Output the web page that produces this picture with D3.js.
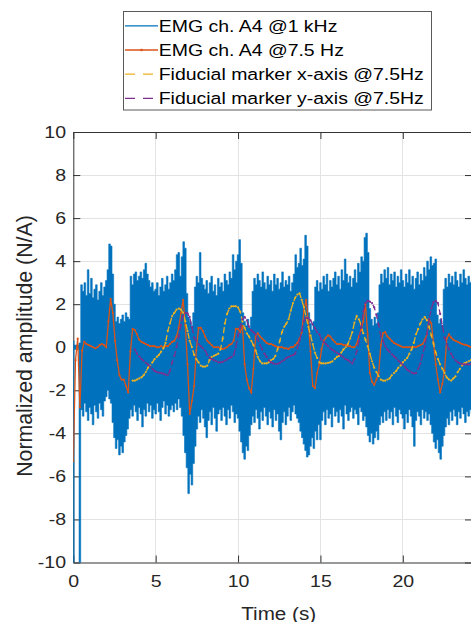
<!DOCTYPE html>
<html>
<head>
<meta charset="utf-8">
<title>EMG ch. A4 and fiducial markers</title>
<script src="https://d3js.org/d3.v7.min.js"></script>
<style>
  body { margin: 0; background: #ffffff; }
  svg { display: block; font-family: "Liberation Sans", Arial, Helvetica, sans-serif; }
</style>
</head>
<body>
<svg id="canvas"></svg>
<script>

// axis ticks
var xTicks = [0, 5, 10, 15, 20];
var yTicks = [-10, -8, -6, -4, -2, 0, 2, 4, 6, 8, 10];

// EMG ch. A4 @1 kHz, too dense to read sample by sample:
// max / min of the trace in every 0.1 s bin
var emgBin = 0.1;
var emgUpper = [
  0.3, 0.1, 0.1, 0.1, 0.2, 2.9, 2.6, 3.0, 2.4, 3.6,
  2.5, 3.2, 2.3, 2.7, 2.9, 2.2, 2.6, 3.0, 2.4, 2.8,
  3.1, 3.6, 4.8, 4.7, 3.4, 2.0, 1.2, 1.4, 1.1, 1.3,
  1.5, 1.2, 1.6, 1.4, 1.3, 3.3, 2.9, 3.4, 3.5, 3.1,
  3.3, 3.5, 3.2, 3.6, 3.9, 3.4, 3.1, 2.8, 3.0, 2.6,
  2.7, 3.0, 2.4, 2.8, 3.2, 2.6, 2.9, 3.3, 2.7, 3.0,
  3.4, 3.1, 3.6, 4.3, 4.4, 3.3, 4.2, 4.9, 4.6, 2.5,
  1.4, 1.2, 1.0, 1.6, 2.8, 3.3, 3.0, 4.4, 3.2, 2.9,
  2.7, 3.1, 2.5, 3.0, 3.3, 2.6, 2.9, 2.4, 3.2, 2.8,
  3.0, 2.6, 3.4, 3.1, 2.9, 3.5, 3.2, 4.3, 3.6, 4.0,
  4.3, 5.0, 3.9, 1.6, 1.2, 1.0, 1.3, 0.9, 1.4, 2.6,
  3.2, 2.9, 3.4, 3.1, 2.8, 3.5, 3.0, 2.7, 3.3, 2.9,
  3.1, 2.6, 3.4, 2.9, 3.2, 2.7, 3.0, 3.5, 2.8, 3.1,
  2.9, 3.3, 2.6, 3.0, 3.4, 4.3, 3.7, 3.9, 4.6, 3.8,
  4.1, 5.2, 4.7, 1.6, 1.1, 0.8, 1.2, 2.8, 3.1, 2.6,
  3.0, 2.7, 3.3, 2.9, 3.4, 2.6, 3.1, 2.8, 3.2, 3.5,
  2.9, 3.3, 2.7, 3.6, 3.1, 4.1, 3.4, 3.0, 3.3, 2.8,
  3.2, 3.6, 3.0, 3.9, 3.5, 4.2, 4.0, 5.1, 5.3, 4.4,
  1.8, 1.3, 1.0, 1.4, 1.1, 1.6, 2.9, 3.4, 3.0, 3.6,
  3.2, 3.7, 2.9, 3.4, 3.1, 3.5, 2.8, 3.3, 3.0, 3.6,
  3.1, 2.8, 3.4, 3.0, 3.6, 2.9, 3.3, 2.7, 3.2, 3.5,
  2.9, 3.4, 3.1, 3.7, 3.3, 4.0, 3.6, 4.2, 3.8, 3.9,
  4.1, 1.5, 1.1, 1.3, 1.0, 2.7, 3.2, 2.8, 3.4, 3.0,
  3.3, 2.9, 3.5, 3.1, 2.8, 3.4, 3.0, 3.6, 3.2, 2.9,
  3.3, 3.0, 3.1
];
var emgLower = [
  -10.5, -0.1, -0.1, -0.1, -10.5, -2.9, -3.2, -2.6, -3.0, -3.4,
  -2.8, -3.1, -3.6, -2.7, -3.0, -3.3, -2.6, -2.9, -3.2, -2.5,
  -2.3, -2.0, -2.4, -2.6, -3.5, -4.2, -4.7, -4.3, -5.0, -4.6,
  -4.9, -4.4, -4.1, -3.8, -3.3, -2.9, -3.2, -2.7, -3.0, -3.4,
  -2.8, -3.1, -3.7, -2.9, -3.2, -2.6, -3.0, -2.7, -3.3, -2.9,
  -3.1, -2.6, -3.0, -3.4, -2.8, -2.5, -3.1, -2.7, -3.2, -2.9,
  -2.7, -3.0, -2.6, -2.9, -2.4, -2.8, -3.2, -4.1, -4.9, -5.6,
  -6.8, -5.9, -6.4, -5.4, -4.6, -3.8, -3.2, -3.5, -2.9, -3.3,
  -3.7, -4.2, -3.4, -3.0, -3.6, -2.8, -3.3, -3.9, -3.1, -2.9,
  -3.4, -2.8, -3.2, -3.6, -2.9, -3.3, -2.7, -3.0, -3.5, -3.1,
  -3.3, -3.9, -4.4, -4.9, -5.2, -4.6, -4.8, -4.1, -3.6, -3.2,
  -3.5, -2.9, -3.3, -3.8, -3.0, -3.4, -2.8, -3.2, -3.6, -3.0,
  -3.3, -3.7, -2.9, -3.4, -3.1, -3.9, -4.3, -3.5, -3.0, -3.6,
  -3.2, -2.8, -3.4, -3.0, -2.7, -3.1, -3.3, -3.5, -3.9, -4.2,
  -4.5, -4.8, -5.1, -5.0, -4.6, -4.2, -4.7, -3.9, -4.3, -3.6,
  -4.3, -3.4, -3.0, -3.6, -2.9, -3.3, -3.1, -3.7, -2.8, -3.2,
  -3.0, -3.5, -2.9, -3.2, -3.8, -2.7, -3.1, -3.4, -3.0, -2.8,
  -3.3, -2.9, -3.1, -3.6, -2.8, -3.0, -3.4, -3.2, -3.7, -4.1,
  -4.4, -4.0, -4.5, -4.2, -3.9, -4.3, -3.6, -3.2, -3.5, -3.0,
  -3.4, -2.9, -3.3, -3.0, -3.6, -2.8, -3.2, -3.5, -2.9, -3.1,
  -3.3, -3.8, -3.1, -3.5, -2.9, -3.2, -3.7, -4.6, -3.4, -3.0,
  -3.2, -3.6, -2.9, -3.3, -3.0, -3.4, -3.1, -3.6, -4.0, -4.4,
  -4.7, -4.3, -4.9, -5.2, -4.6, -4.1, -3.7, -3.3, -3.6, -3.0,
  -3.4, -2.9, -3.2, -3.6, -3.0, -3.3, -2.8, -3.1, -3.5, -3.0,
  -3.2, -2.9, -3.1
];

// the three 7.5 Hz series (one value every 1/7.5 s from their start time)
var slowRate = 7.5;

var emgSlowStart = 0;
var emgSlow = [
  -5.3, -0.6, 0.4, -2.8, -0.15, 0.25, 0.15, 0.1, 0.05, 0.0, -0.05, 0.0, 0.1, 0.15, 0.1,
  0.0, 1.2, 2.25, 1.6, 0.3, -0.6, -1.3, -1.5, -1.5, -1.8, -2.1, -0.2, 0.85, 0.8, 0.6,
  0.35, 0.25, 0.2, 0.15, 0.1, 0.05, 0.05, 0.05, 0.0, 0.0, 0.05, 0.0, 0.05, 0.05, 0.15,
  0.25, 0.3, 0.5, 0.9, 1.6, 2.2, 1.0, -0.8, -3.1, -2.5, -1.8, -0.15, 0.9, 0.9, 0.75,
  0.5, 0.3, 0.2, 0.1, 0.0, 0.0, 0.0, -0.05, -0.08, -0.05, 0.0, 0.1, 0.15, 0.3, 0.85,
  0.85, 0.7, 1.0, -0.8, -1.5, -1.9, -2.1, -1.0, 0.5, 0.65, 0.5, 0.4, 0.3, 0.2, 0.15,
  0.15, 0.1, 0.05, 0.0, 0.0, 0.0, -0.05, -0.05, -0.08, 0.0, 0.0, 0.1, 0.2, 0.4, 0.7,
  1.7, 2.2, 1.2, -0.2, -1.8, -1.9, -1.2, -0.8, -0.1, 0.3, 0.45, 0.55, 0.5, 0.35, 0.25,
  0.15, 0.15, 0.15, 0.1, 0.1, 0.05, 0.05, 0.0, 0.0, 0.15, 0.5, 0.8, 1.2, 2.0, 0.6,
  -1.2, -1.6, -1.75, -1.5, -1.2, 0.1, 0.65, 0.7, 0.5, 0.4, 0.3, 0.2, 0.15, 0.1, 0.05,
  0.0, 0.0, 0.0, 0.0, 0.0, 0.0, 0.0, 0.05, 0.1, 0.15, 0.35, 0.6, 1.3, 1.1, 0.2,
  -0.8, -1.5, -2.1, -1.7, -1.1, 0.4, 0.6, 0.45, 0.35, 0.3, 0.25, 0.2, 0.15, 0.12, 0.1,
  0.05, 0.0
];

var markerXStart = 3.6;
var markerX = [
  -1.55, -1.55, -1.5, -1.45, -1.4, -1.3, -1.15, -0.95, -0.85, -0.7, -0.55, -0.45, -0.35, -0.2, -0.05,
  0.2, 0.75, 1.1, 1.45, 1.6, 1.75, 1.8, 1.75, 1.6, 1.2, 0.75, 0.3, 0.0, -0.35, -0.55,
  -0.7, -0.85, -0.9, -0.9, -0.85, -0.6, -0.45, -0.4, -0.35, -0.3, -0.1, 0.4, 1.1, 1.55, 1.8,
  1.9, 1.9, 1.9, 1.85, 1.65, 1.2, 0.9, 0.65, 0.5, 0.3, 0.1, -0.15, -0.45, -0.65, -0.75,
  -0.75, -0.75, -0.7, -0.6, -0.55, -0.4, -0.1, 0.3, 0.7, 0.95, 1.1, 1.3, 1.7, 2.05, 2.3,
  2.45, 2.5, 2.2, 1.85, 1.4, 0.95, 0.55, 0.15, -0.25, -0.5, -0.7, -0.75, -0.75, -0.75, -0.72,
  -0.7, -0.65, -0.55, -0.45, -0.4, -0.25, -0.1, 0.0, 0.15, 0.4, 0.7, 1.15, 1.45, 1.3, 1.05,
  0.65, 0.35, 0.05, -0.3, -0.65, -0.95, -1.15, -1.35, -1.5, -1.55, -1.55, -1.5, -1.45, -1.3, -1.2,
  -1.1, -0.95, -0.85, -0.7, -0.6, -0.5, -0.3, -0.1, 0.2, 0.6, 0.85, 1.1, 1.3, 1.4, 1.25,
  0.95, 0.55, 0.15, -0.25, -0.55, -0.8, -1.0, -1.2, -1.4, -1.5, -1.55, -1.45, -1.35, -1.15, -1.0,
  -0.85, -0.75, -0.7, -0.65, -0.6
];

var markerYStart = 3.7333;
var markerY = [
  -0.1, -0.3, -0.42, -0.55, -0.63, -0.72, -0.8, -0.9, -1.0, -1.1, -1.15, -1.18, -1.2, -1.22, -1.27,
  -1.3, -1.1, -0.7, -0.4, 0.0, 0.5, 1.05, 1.45, 1.6, 1.58, 1.4, 0.95, 0.45, 0.3, 0.15,
  0.05, -0.05, -0.15, -0.35, -0.48, -0.55, -0.6, -0.65, -0.7, -0.7, -0.68, -0.62, -0.57, -0.5, -0.45,
  -0.35, 0.0, 0.55, 0.95, 1.3, 1.4, 1.25, 0.95, 0.8, 0.7, 0.6, 0.35, 0.1, -0.1, -0.3,
  -0.45, -0.6, -0.7, -0.75, -0.77, -0.77, -0.72, -0.65, -0.6, -0.5, -0.45, -0.4, -0.37, -0.3, -0.05,
  0.3, 0.75, 1.2, 1.38, 1.35, 1.25, 1.05, 0.9, 0.7, 0.6, 0.35, 0.25, 0.15, 0.05, -0.05,
  -0.12, -0.2, -0.25, -0.32, -0.4, -0.47, -0.55, -0.6, -0.68, -0.75, -0.55, -0.2, 0.3, 0.9, 1.65,
  2.05, 2.15, 2.12, 2.05, 1.85, 1.5, 1.05, 0.5, 0.3, 0.05, -0.12, -0.22, -0.33, -0.42, -0.52,
  -0.62, -0.72, -0.82, -0.92, -1.05, -1.12, -1.17, -1.22, -1.2, -1.0, -0.75, -0.35, 0.05, 0.6, 1.3,
  1.8, 2.1, 2.15, 2.05, 1.55, 1.0, 0.45, 0.15, -0.1, -0.3, -0.48, -0.6, -0.7, -0.75, -0.78,
  -0.8, -0.8, -0.8, -0.78
];

var legendLabels = [
  "EMG ch. A4 @1 kHz",
  "EMG ch. A4 @7.5 Hz",
  "Fiducial marker x-axis @7.5Hz",
  "Fiducial marker y-axis @7.5Hz"
];
var colors = ["#0072BD", "#D95319", "#EDB120", "#7E2F8E"];

var width = 471;
var height = 622;
// plot box (right edge falls just outside the window, as in the original)
var plotLeft = 73.3, plotRight = 472, plotTop = 132, plotBottom = 562.5;
var textColor = "#262626";

var svg = d3.select("#canvas")
  .attr("width", width)
  .attr("height", height);

var x = d3.scaleLinear().domain([0, 24.2]).range([plotLeft, plotRight]);
var y = d3.scaleLinear().domain([-10, 10]).range([plotBottom, plotTop]);

// text in the picture is a little wider than Arial, stretch it sideways
function stretch(sel, sx) {
  sel.attr("transform", "scale(" + sx + ",1)");
}

// grid
var grid = svg.append("g").attr("stroke", "#e3e3e3").attr("stroke-width", 1)
  .attr("shape-rendering", "crispEdges");
grid.selectAll(".gx").data(xTicks.slice(1)).enter().append("line")
  .attr("x1", function (d) { return x(d); }).attr("x2", function (d) { return x(d); })
  .attr("y1", plotTop).attr("y2", plotBottom);
grid.selectAll(".gy").data(yTicks.slice(1, -1)).enter().append("line")
  .attr("x1", plotLeft).attr("x2", plotRight)
  .attr("y1", function (d) { return y(d); }).attr("y2", function (d) { return y(d); });

// axes, ticks pointing inwards like matlab
var fmt = function (d) { return String(d); };
var gx = svg.append("g").attr("transform", "translate(0," + plotBottom + ")")
  .call(d3.axisBottom(x).tickValues(xTicks).tickFormat(fmt).tickSizeInner(-7).tickSizeOuter(0).tickPadding(12.9));
var gy = svg.append("g").attr("transform", "translate(" + plotLeft + ",0)")
  .call(d3.axisLeft(y).tickValues(yTicks).tickFormat(fmt).tickSizeInner(-7).tickSizeOuter(0).tickPadding(6.3));
svg.append("g").attr("transform", "translate(0," + plotTop + ")")
  .call(d3.axisTop(x).tickValues(xTicks).tickFormat("").tickSizeInner(-7).tickSizeOuter(0));
svg.append("g").attr("transform", "translate(" + plotRight + ",0)")
  .call(d3.axisRight(y).tickValues(yTicks).tickFormat("").tickSizeInner(-7).tickSizeOuter(0));

svg.selectAll(".domain").attr("stroke", "#333").attr("stroke-width", 1);
svg.selectAll(".tick line").attr("stroke", "#333").attr("stroke-width", 1);
[gx, gy].forEach(function (g) {
  g.selectAll("text")
    .attr("font-size", 17)
    .attr("fill", textColor)
    .attr("font-family", "Liberation Sans, Arial, sans-serif")
    .call(stretch, 1.15);
});

// data layer
svg.append("clipPath").attr("id", "plotclip").append("rect")
  .attr("x", plotLeft).attr("y", plotTop)
  .attr("width", plotRight - plotLeft).attr("height", plotBottom - plotTop);
var plot = svg.append("g").attr("clip-path", "url(#plotclip)");

// blue EMG envelope, one step per bin
var area = d3.area()
  .x(function (d, i) { return x(i * emgBin); })
  .y0(function (d) { return y(d[1]); })
  .y1(function (d) { return y(d[0]); })
  .curve(d3.curveStep);
plot.append("path")
  .datum(d3.zip(emgUpper, emgLower))
  .attr("d", area)
  .attr("fill", colors[0])
  .attr("stroke", colors[0])
  .attr("stroke-width", 0.6);

function slowSeries(values, start, color, dash) {
  var pts = values.map(function (v, i) { return [start + i / slowRate, v]; });
  var line = d3.line()
    .x(function (d) { return x(d[0]); })
    .y(function (d) { return y(d[1]); });
  plot.append("path")
    .datum(pts)
    .attr("d", line)
    .attr("fill", "none")
    .attr("stroke", color)
    .attr("stroke-width", 1.3)
    .attr("stroke-dasharray", dash);
  plot.append("g").selectAll("circle")
    .data(pts).enter().append("circle")
    .attr("cx", function (d) { return x(d[0]); })
    .attr("cy", function (d) { return y(d[1]); })
    .attr("r", 1.1)
    .attr("fill", color);
}
slowSeries(emgSlow, emgSlowStart, colors[1], null);
slowSeries(markerX, markerXStart, colors[2], "6,3");
slowSeries(markerY, markerYStart, colors[3], "6,3");

// axis labels
svg.append("text")
  .attr("transform", "translate(278.7,620) scale(1.11,1)")
  .attr("text-anchor", "middle")
  .attr("font-size", 18.6)
  .attr("fill", textColor)
  .text("Time (s)");
svg.append("text")
  .attr("transform", "translate(31.5,346) rotate(-90)")
  .attr("text-anchor", "middle")
  .attr("font-size", 21.3)
  .attr("fill", textColor)
  .text("Normalized amplitude (N/A)");

// legend
var legend = svg.append("g");
legend.append("rect")
  .attr("x", 123.5).attr("y", 11.5)
  .attr("width", 308).attr("height", 98.5)
  .attr("fill", "#ffffff")
  .attr("stroke", "#5a5a5a")
  .attr("stroke-width", 1);
var rowY = [25.8, 50, 74.2, 98.4];
var legendDash = [null, null, "10,8", "10,8"];
legendLabels.forEach(function (label, i) {
  legend.append("line")
    .attr("x1", 125).attr("x2", 158)
    .attr("y1", rowY[i]).attr("y2", rowY[i])
    .attr("stroke", colors[i])
    .attr("stroke-width", 1.3)
    .attr("stroke-dasharray", legendDash[i]);
  if (i == 1) {
    legend.append("circle").attr("cx", 141.5).attr("cy", rowY[i]).attr("r", 1.3).attr("fill", colors[i]);
  }
  legend.append("text")
    .attr("transform", "translate(158.7," + (rowY[i] + 6) + ") scale(1.18,1)")
    .attr("font-size", 16.5)
    .attr("fill", "#000000")
    .text(label);
});

</script>
</body>
</html>
